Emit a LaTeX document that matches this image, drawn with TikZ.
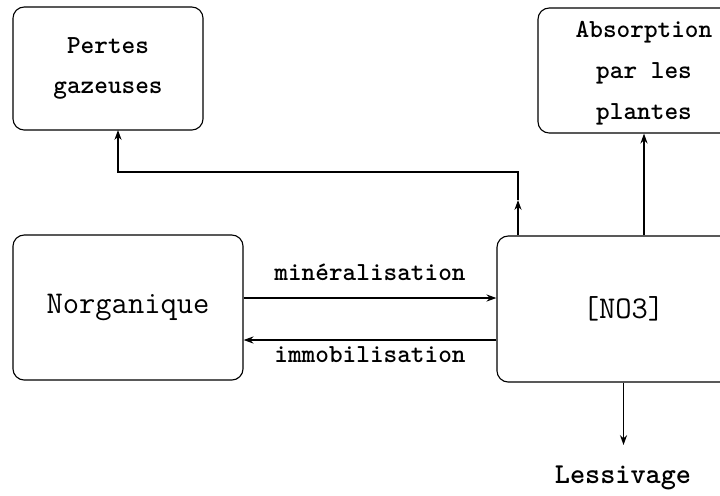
\documentclass[tikz,border=0pt]{standalone}
\usepackage{fontspec}
\usetikzlibrary{arrows.meta}
\begin{document}
\begin{tikzpicture}[x=0.025cm, y=-0.025cm,
  box/.style={draw, line width=0.8pt, rounded corners=8pt, align=center},
  flow/.style={line width=1.2pt, -{Stealth[length=7pt,width=5pt]}},
  lbl/.style={font=\ttfamily\bfseries\fontsize{18.5}{29}\selectfont},
  big/.style={font=\ttfamily\fontsize{22.5}{28}\selectfont}]
% page frame
\useasboundingbox (0,0) rectangle (720,495);
\clip (0,0) rectangle (720,495);

% Draw the boxes
\node[box, lbl, minimum width=4.75cm, minimum height=3.075cm] (pertes) at (108,68.5) {Pertes\\gazeuses};
\node[box, lbl, minimum width=5.3cm, minimum height=3.125cm, text depth=0pt] (absorb) at (644,70.5) {Absorption\\par les\\plantes};
\node[box, big, minimum width=5.75cm, minimum height=3.625cm] (norg) at (128,307.5) {Norganique};
\node[box, big, minimum width=6.325cm, minimum height=3.65cm] (no3) at (623.5,309) {[NO3]};

% helper points
\coordinate (gas) at (518,172);
\coordinate (gasmid) at (518,200);
\coordinate (gasend) at (118,130);
\coordinate (minr) at (0,298);
\coordinate (immo) at (0,340);
\coordinate (leach) at (623.5,445);

% Flows between the boxes
\draw[flow] (no3.north -| gas) -- (gasmid);
\draw[flow] (gasmid) -- (gas) -| (gasend);
\draw[flow] (no3.north -| absorb.south) -- (absorb.south);
\draw[flow] (norg.east |- minr) -- (no3.west |- minr);
\draw[flow] (no3.west |- immo) -- (norg.east |- immo);
\draw[flow] (no3.south) -- (leach);

% Labels
\node[lbl] (minlbl) at (370,272) {minéralisation};
\node[lbl] (immlbl) at (370,355) {immobilisation};
\node[lbl, font=\ttfamily\bfseries\fontsize{20.5}{26}\selectfont] (lesslbl) at (623,478) {Lessivage};
\end{tikzpicture}
\end{document}
